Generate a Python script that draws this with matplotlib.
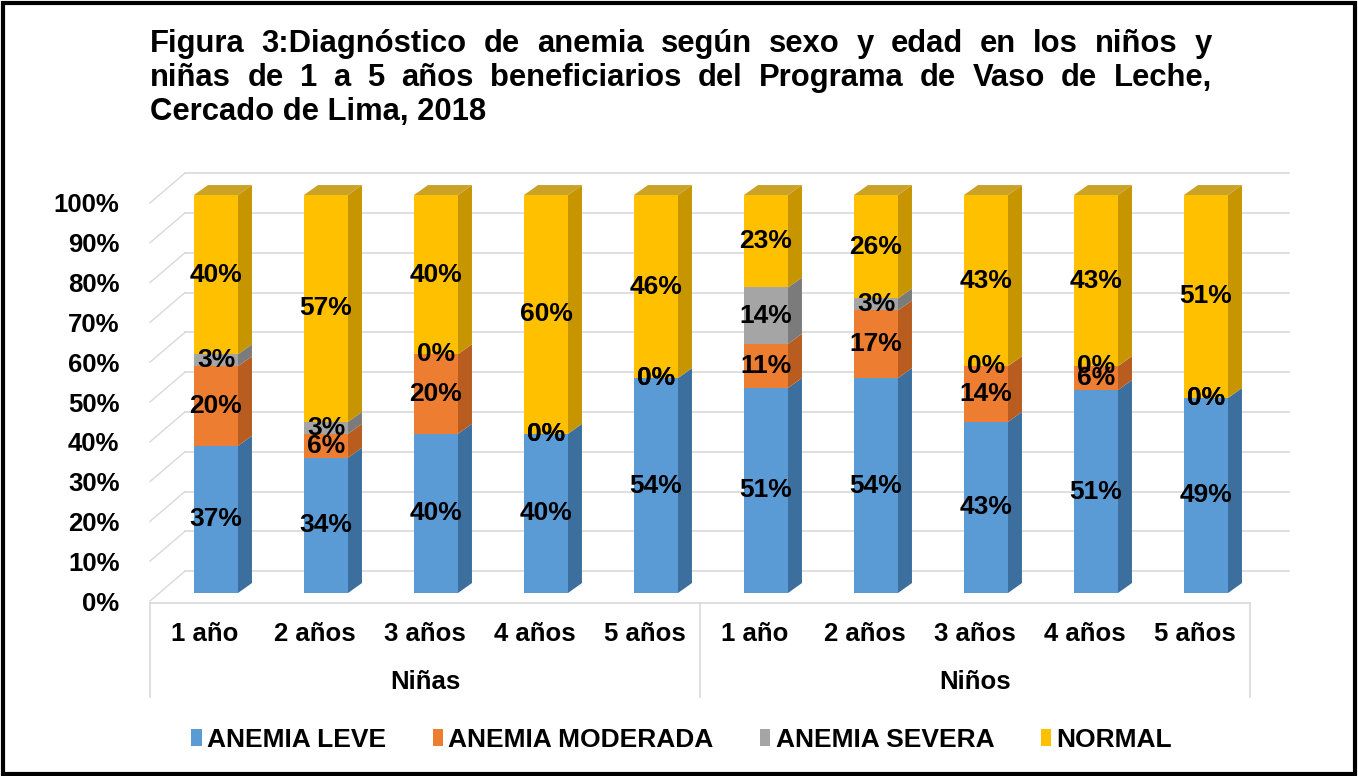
import matplotlib.pyplot as plt
from matplotlib.patches import Polygon, Rectangle, Patch
from matplotlib.transforms import ScaledTranslation

plt.rcParams['font.family'] = ['Liberation Sans', 'DejaVu Sans']
plt.rcParams['font.weight'] = 'bold'

# Datos (porcentajes)
edades = ["1 año", "2 años", "3 años", "4 años", "5 años"] * 2
grupos = ["Niñas", "Niños"]
series = ["ANEMIA LEVE", "ANEMIA MODERADA", "ANEMIA SEVERA", "NORMAL"]
leve = [37, 34, 40, 40, 54, 51, 54, 43, 51, 49]
moderada = [20, 6, 20, 0, 0, 11, 17, 14, 6, 0]
severa = [3, 3, 0, 0, 0, 14, 3, 0, 0, 0]
normal = [40, 57, 40, 60, 46, 23, 26, 43, 43, 51]

front = ["#5B9BD5", "#ED7D31", "#A5A5A5", "#FFC000"]
side = ["#3D6F9E", "#B85C1F", "#7B7B7B", "#C69500"]
top_color = "#C9A227"

titulo = ["Figura 3:Diagnóstico de anemia según sexo y edad en los niños y",
          "niñas de 1 a 5 años beneficiarios del Programa de Vaso de Leche,",
          "Cercado de Lima, 2018"]

W, H = 1358, 776
fig = plt.figure(figsize=(W / 100, H / 100), dpi=100)
fig.patches.append(Rectangle((0.002, 0.003), 0.996, 0.993, transform=fig.transFigure,
                             fill=False, edgecolor="black", lw=3))

# titulo justificado (las dos primeras lineas ocupan todo el ancho)
renderer = fig.canvas.get_renderer()
x_left, x_right = 150, 1212
for n, linea in enumerate(titulo):
    y = 1 - (52 + 34 * n) / H
    if n == len(titulo) - 1:
        fig.text(x_left / W, y, linea, ha="left", va="baseline", fontsize=22.3, fontweight="bold")
        continue
    palabras = [fig.text(0, y, p, ha="left", va="baseline", fontsize=22.3, fontweight="bold")
                for p in linea.split(" ")]
    anchos = [t.get_window_extent(renderer).width for t in palabras]
    hueco = (x_right - x_left - sum(anchos)) / (len(palabras) - 1)
    xp = x_left
    for t, a in zip(palabras, anchos):
        t.set_x(xp / W)
        xp += a + hueco

# ejes: x de 150 a 1250 px, y de 170 a 603 px
ax = fig.add_axes([150 / W, 1 - 603 / H, 1100 / W, 433 / H])
ax.set_xlim(-0.5, 9.5)
ax.set_ylim(-2.51, 106.28)
for s in ax.spines.values():
    s.set_visible(False)
ax.set_xticks([])
ax.set_yticks(range(0, 101, 10))
ax.set_yticklabels([f"{v}%" for v in range(0, 101, 10)], fontsize=18.5, fontweight="bold")
ax.tick_params(axis="y", length=0, pad=22)
off = ScaledTranslation(0, -0.08, fig.dpi_scale_trans)
for lab in ax.get_yticklabels():
    lab.set_transform(lab.get_transform() + off)

# paredes 3D: lineas de cuadricula
grid_c = "#D9D9D9"
wall_dx = 35 / 110
for v in range(0, 101, 10):
    ax.plot([-0.5, -0.5 + wall_dx], [v - 2.0, v + 5.5], color=grid_c, lw=1, zorder=0, clip_on=False)
    ax.plot([-0.5 + wall_dx, 9.85], [v + 5.5, v + 5.5], color=grid_c, lw=1.2, zorder=0, clip_on=False)

# barras apiladas 100% con efecto 3D
bw = 0.4
dx = 0.127
dy = 2.5
valores = [leve, moderada, severa, normal]
for i in range(len(edades)):
    total = sum(vals[i] for vals in valores)
    xc = i + 0.1
    x0, x1 = xc - bw / 2, xc + bw / 2
    base = 0.0
    for k, vals in enumerate(valores):
        h = vals[i] / total * 100
        if h > 0:
            ax.add_patch(Rectangle((x0, base), bw, h, facecolor=front[k], edgecolor="none", zorder=2))
            ax.add_patch(Polygon([(x1, base), (x1 + dx, base + dy), (x1 + dx, base + h + dy), (x1, base + h)],
                                 closed=True, facecolor=side[k], edgecolor="none", zorder=2))
        ax.text(xc, base + h / 2, f"{vals[i]}%", ha="center", va="center", fontsize=19,
                fontweight="bold", color="black", zorder=5)
        base += h
    ax.add_patch(Polygon([(x0, 100), (x0 + dx, 100 + dy), (x1 + dx, 100 + dy), (x1, 100)],
                         closed=True, facecolor=top_color, edgecolor="none", zorder=2, clip_on=False))

# tabla de categorias
line_c = "#D9D9D9"
ax.plot([-0.5, 9.5], [-2.5, -2.5], color=line_c, lw=1.2, clip_on=False)
for xv in [-0.5, 4.5, 9.5]:
    ax.plot([xv, xv], [-2.5, -26.1], color=line_c, lw=1.2, clip_on=False)
for i, e in enumerate(edades):
    ax.text(i, -10.2, e, ha="center", va="center", fontsize=18.5, fontweight="bold", clip_on=False)
for g, xg in zip(grupos, [2, 7]):
    ax.text(xg, -22.4, g, ha="center", va="center", fontsize=18.5, fontweight="bold", clip_on=False)

handles = [Patch(facecolor=c, edgecolor="none") for c in front]
fig.legend(handles, series, loc="center", bbox_to_anchor=(0.502, 1 - 740 / H), ncol=4,
           frameon=False, prop={"weight": "bold", "size": 19}, handlelength=0.4, handleheight=0.6,
           handletextpad=0.2, columnspacing=1.75)

fig.savefig("out.png", dpi=100)
